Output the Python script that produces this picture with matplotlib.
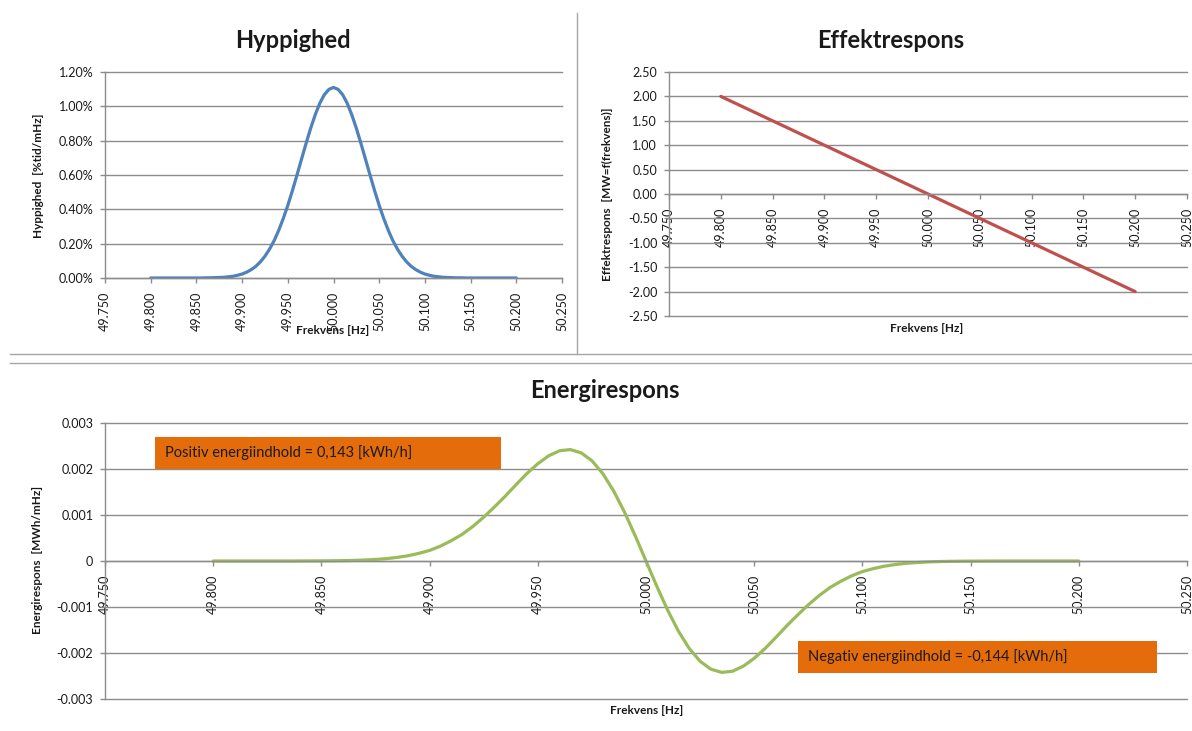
import matplotlib
matplotlib.use("Agg")
import matplotlib.pyplot as plt
from matplotlib.patches import Rectangle
from matplotlib.lines import Line2D

plt.rcParams['font.family'] = ['Lato', 'DejaVu Sans']

W, H, DPI = 1192, 731, 100

# ---------------- data ----------------
freq = [49.800, 49.805, 49.810, 49.815, 49.820, 49.825, 49.830, 49.835, 49.840, 49.845,
        49.850, 49.855, 49.860, 49.865, 49.870, 49.875, 49.880, 49.885, 49.890, 49.895,
        49.900, 49.905, 49.910, 49.915, 49.920, 49.925, 49.930, 49.935, 49.940, 49.945,
        49.950, 49.955, 49.960, 49.965, 49.970, 49.975, 49.980, 49.985, 49.990, 49.995,
        50.000,
        50.005, 50.010, 50.015, 50.020, 50.025, 50.030, 50.035, 50.040, 50.045, 50.050,
        50.055, 50.060, 50.065, 50.070, 50.075, 50.080, 50.085, 50.090, 50.095, 50.100,
        50.105, 50.110, 50.115, 50.120, 50.125, 50.130, 50.135, 50.140, 50.145, 50.150,
        50.155, 50.160, 50.165, 50.170, 50.175, 50.180, 50.185, 50.190, 50.195, 50.200]

# frequency of occurrence, % time per mHz
hyppighed = [0.000, 0.000, 0.000, 0.000, 0.000, 0.000, 0.000, 0.000, 0.000, 0.000,
             0.000, 0.000, 0.001, 0.001, 0.002, 0.003, 0.004, 0.007, 0.010, 0.016,
             0.023, 0.034, 0.049, 0.068, 0.094, 0.127, 0.168, 0.217, 0.277, 0.346,
             0.423, 0.508, 0.599, 0.692, 0.784, 0.872, 0.951, 1.018, 1.068, 1.099,
             1.110,
             1.099, 1.068, 1.018, 0.951, 0.872, 0.784, 0.692, 0.599, 0.508, 0.423,
             0.346, 0.277, 0.217, 0.168, 0.127, 0.094, 0.068, 0.049, 0.034, 0.023,
             0.016, 0.010, 0.007, 0.004, 0.003, 0.002, 0.001, 0.001, 0.000, 0.000,
             0.000, 0.000, 0.000, 0.000, 0.000, 0.000, 0.000, 0.000, 0.000, 0.000]

# power response, MW
freq_eff = [49.80, 49.85, 49.90, 49.95, 50.00, 50.05, 50.10, 50.15, 50.20]
effekt = [2.00, 1.50, 1.00, 0.50, 0.00, -0.50, -1.00, -1.50, -2.00]

# energy response, MWh/mHz
energi = [0.0, 0.0, 0.0, 0.0, 0.0, 0.0, 0.0, 0.0,
          0.000001, 0.000002, 0.000003, 0.000005, 0.000008, 0.000013, 0.000021, 0.000034,
          0.000051, 0.000078, 0.000114, 0.000166, 0.000230, 0.000323, 0.000441, 0.000578,
          0.000752, 0.000953, 0.001176, 0.001411, 0.001662, 0.001903, 0.002115, 0.002286,
          0.002396, 0.002422, 0.002352, 0.002180, 0.001902, 0.001527, 0.001068, 0.000550,
          0.0,
          -0.000550, -0.001068, -0.001527, -0.001902, -0.002180, -0.002352, -0.002422, -0.002396,
          -0.002286, -0.002115, -0.001903, -0.001662, -0.001411, -0.001176, -0.000953, -0.000752,
          -0.000578, -0.000441, -0.000323, -0.000230, -0.000166, -0.000114, -0.000078, -0.000051,
          -0.000034, -0.000021, -0.000013, -0.000008, -0.000005, -0.000003, -0.000002, -0.000001,
          0.0, 0.0, 0.0, 0.0, 0.0, 0.0, 0.0, 0.0]

x_ticks = [49.750, 49.800, 49.850, 49.900, 49.950, 50.000, 50.050, 50.100, 50.150, 50.200, 50.250]
x_ticklabels = ["49.750", "49.800", "49.850", "49.900", "49.950", "50.000",
                "50.050", "50.100", "50.150", "50.200", "50.250"]

h_ticks = [0.0, 0.2, 0.4, 0.6, 0.8, 1.0, 1.2]
h_ticklabels = ["0.00%", "0.20%", "0.40%", "0.60%", "0.80%", "1.00%", "1.20%"]

e_ticks = [-2.5, -2.0, -1.5, -1.0, -0.5, 0.0, 0.5, 1.0, 1.5, 2.0, 2.5]
e_ticklabels = ["-2.50", "-2.00", "-1.50", "-1.00", "-0.50", "0.00",
                "0.50", "1.00", "1.50", "2.00", "2.50"]

en_ticks = [-0.003, -0.002, -0.001, 0.0, 0.001, 0.002, 0.003]
en_ticklabels = ["-0.003", "-0.002", "-0.001", "0", "0.001", "0.002", "0.003"]

pos_text = "Positiv energiindhold = 0,143 [kWh/h]"
neg_text = "Negativ energiindhold = -0,144 [kWh/h]"

# ---------------- styling ----------------
GRID = "#8c8c8c"
AXIS = "#8c8c8c"
SEP = "#a6a6a6"
TXT = "#1a1a1a"
BLUE = "#4F81BD"
RED = "#C0504D"
GREEN = "#9BBB59"
ORANGE = "#E46C0A"
TITLE_FS = 17
LABEL_FS = 8.5
TICK_FS = 9


def fx(px):
    return px / W


def fy(py):
    return 1 - py / H


def make_axes(l, t, r, b):
    return fig.add_axes([fx(l), fy(b), fx(r) - fx(l), fy(t) - fy(b)])


def style(ax, ylim, yticks, yticklabels, zero_axis=False):
    for s in ("top", "right"):
        ax.spines[s].set_visible(False)
    if zero_axis:
        ax.spines["bottom"].set_position(("data", 0))
    ax.spines["left"].set_color(AXIS)
    ax.spines["bottom"].set_color(AXIS)
    ax.spines["left"].set_linewidth(1.0)
    ax.spines["bottom"].set_linewidth(1.0)
    ax.set_xlim(49.75, 50.25)
    ax.set_ylim(*ylim)
    ax.set_yticks(yticks)
    ax.set_yticklabels(yticklabels)
    ax.set_xticks(x_ticks)
    ax.set_xticklabels(x_ticklabels, rotation=90)
    ax.grid(axis="y", color=GRID, lw=1.0)
    ax.set_axisbelow(True)
    ax.patch.set_alpha(0)
    ax.tick_params(axis="x", direction="out", length=3.5, width=1, color=AXIS,
                   pad=6.5, labelsize=TICK_FS, labelcolor=TXT)
    ax.tick_params(axis="y", direction="out", length=3.5, width=1, color=AXIS,
                   pad=5, labelsize=TICK_FS, labelcolor=TXT)
    for gl in ax.yaxis.get_gridlines():
        gl.set_clip_on(False)


fig = plt.figure(figsize=(W / DPI, H / DPI), dpi=DPI)
fig.patch.set_facecolor("white")

# separators / chart borders
for (x0, y0, x1, y1) in [(10, 354, 1192, 354), (577, 13, 577, 354), (10, 363, 1192, 363)]:
    fig.add_artist(Line2D([fx(x0), fx(x1)], [fy(y0), fy(y1)], transform=fig.transFigure,
                          color=SEP, lw=1.0))

# --- Hyppighed ---
ax1 = make_axes(105, 72, 562, 278)
ax1.plot(freq, hyppighed, color=BLUE, lw=2.3, solid_capstyle="round", solid_joinstyle="round")
style(ax1, (0, 1.2), h_ticks, h_ticklabels)
fig.text(fx(293), fy(40), "Hyppighed", ha="center", va="center", fontsize=TITLE_FS,
         fontweight="bold", color=TXT)
fig.text(fx(38), fy(176), "Hyppighed  [%tid/mHz]", rotation=90, ha="center", va="center",
         fontsize=LABEL_FS, fontweight="bold", color=TXT)
fig.text(fx(333), fy(330), "Frekvens [Hz]", ha="center", va="center", fontsize=LABEL_FS,
         fontweight="bold", color=TXT)

# --- Effektrespons ---
ax2 = make_axes(669, 72, 1187, 316)
ax2.plot(freq_eff, effekt, color=RED, lw=2.3, solid_capstyle="round")
style(ax2, (-2.5, 2.5), e_ticks, e_ticklabels, zero_axis=True)
fig.text(fx(891), fy(40), "Effektrespons", ha="center", va="center", fontsize=TITLE_FS,
         fontweight="bold", color=TXT)
fig.text(fx(607), fy(194), "Effektrespons  [MW=f(frekvens)]", rotation=90, ha="center",
         va="center", fontsize=LABEL_FS, fontweight="bold", color=TXT)
fig.text(fx(927), fy(329), "Frekvens [Hz]", ha="center", va="center", fontsize=LABEL_FS,
         fontweight="bold", color=TXT)

# --- Energirespons ---
ax3 = make_axes(105, 423, 1187, 699)
ax3.plot(freq, energi, color=GREEN, lw=2.3, solid_capstyle="round", solid_joinstyle="round")
style(ax3, (-0.003, 0.003), en_ticks, en_ticklabels, zero_axis=True)
fig.text(fx(605), fy(390), "Energirespons", ha="center", va="center", fontsize=TITLE_FS,
         fontweight="bold", color=TXT)
fig.text(fx(38), fy(560), "Energirespons  [MWh/mHz]", rotation=90, ha="center",
         va="center", fontsize=LABEL_FS, fontweight="bold", color=TXT)
fig.text(fx(647), fy(711), "Frekvens [Hz]", ha="center", va="center", fontsize=LABEL_FS,
         fontweight="bold", color=TXT)

# annotation boxes
for (l, t, r, b, txt) in [(155, 437, 501, 469, pos_text), (798, 641, 1157, 673, neg_text)]:
    fig.add_artist(Rectangle((fx(l), fy(b)), fx(r) - fx(l), fy(t) - fy(b),
                             transform=fig.transFigure, facecolor=ORANGE, edgecolor="none",
                             zorder=3))
    fig.text(fx(l + 10), fy((t + b) / 2), txt, ha="left", va="center", fontsize=10.5,
             color=TXT, zorder=4)

fig.savefig("out.png", dpi=DPI, facecolor="white")
